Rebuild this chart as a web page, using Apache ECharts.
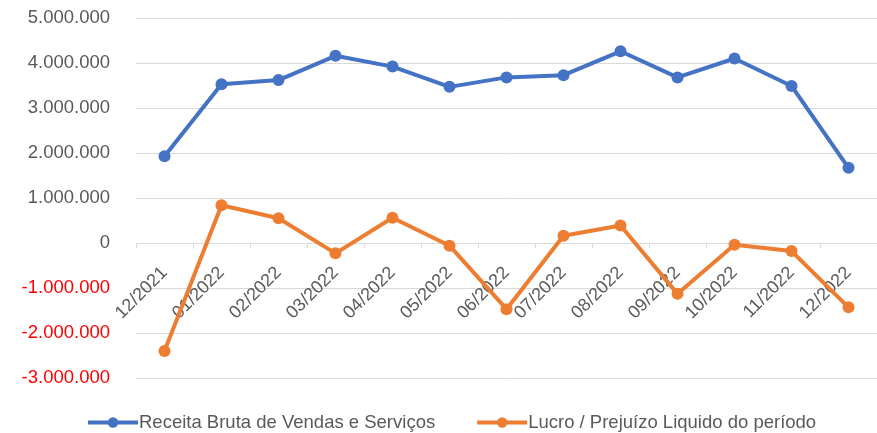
<!DOCTYPE html>
<html><head><meta charset="utf-8">
<script src="https://cdn.jsdelivr.net/npm/echarts@6/dist/echarts.min.js"></script>
<style>html,body{margin:0;padding:0;background:#fff}#c{width:877px;height:433px}</style>
</head><body><div id="c"></div>
<script>
var categories = ['12/2021','01/2022','02/2022','03/2022','04/2022','05/2022','06/2022','07/2022','08/2022','09/2022','10/2022','11/2022','12/2022'];
var receita = [1930000,3530000,3620000,4160000,3920000,3470000,3680000,3730000,4260000,3680000,4100000,3490000,1670000];
var lucro = [-2400000,840000,550000,-230000,560000,-60000,-1470000,160000,390000,-1130000,-40000,-180000,-1430000];
var seriesNames = ['Receita Bruta de Vendas e Serviços','Lucro / Prejuízo Liquido do período'];

function fmt(v){
  var s = Math.abs(v).toString().replace(/\B(?=(\d{3})+(?!\d))/g,'.');
  return (v<0?'-':'')+s;
}
var font = 'Liberation Sans';
var chart = echarts.init(document.getElementById('c'));
chart.setOption({
  animation:false,
  grid:{left:136,top:18,width:743,height:360,containLabel:false},
  legend:{top:413,left:86,padding:0,itemWidth:50,itemHeight:13,itemGap:40,
    lineStyle:{width:4},
    textStyle:{color:'#595959',fontSize:18.5,fontFamily:font,padding:[0,0,0,-4]},
    data:seriesNames},
  xAxis:{type:'category',data:categories,boundaryGap:true,position:'bottom',offset:-135,
    axisLine:{onZero:false,lineStyle:{color:'#D9D9D9',width:1}},
    axisTick:{show:true,alignWithLabel:false,length:5,lineStyle:{color:'#D9D9D9'}},
    axisLabel:{rotate:45,margin:27,color:'#595959',fontSize:18,fontFamily:font,interval:0}},
  yAxis:{type:'value',min:-3000000,max:5000000,interval:1000000,
    axisLine:{show:false},axisTick:{show:false},
    splitLine:{lineStyle:{color:'#D9D9D9',width:1}},
    axisLabel:{margin:26,fontSize:18.5,fontFamily:font,
      formatter:function(v){return v<0?'{n|'+fmt(v)+'}':'{p|'+fmt(v)+'}';},
      rich:{n:{color:'#FF0000',fontSize:18.5,fontFamily:font},p:{color:'#595959',fontSize:18.5,fontFamily:font}}}},
  series:[
    {name:seriesNames[0],type:'line',data:receita,symbol:'circle',symbolSize:12,
     lineStyle:{color:'#4472C4',width:4},itemStyle:{color:'#4472C4'}},
    {name:seriesNames[1],type:'line',data:lucro,symbol:'circle',symbolSize:12,
     lineStyle:{color:'#ED7D31',width:4},itemStyle:{color:'#ED7D31'}}
  ]
});
</script></body></html>
